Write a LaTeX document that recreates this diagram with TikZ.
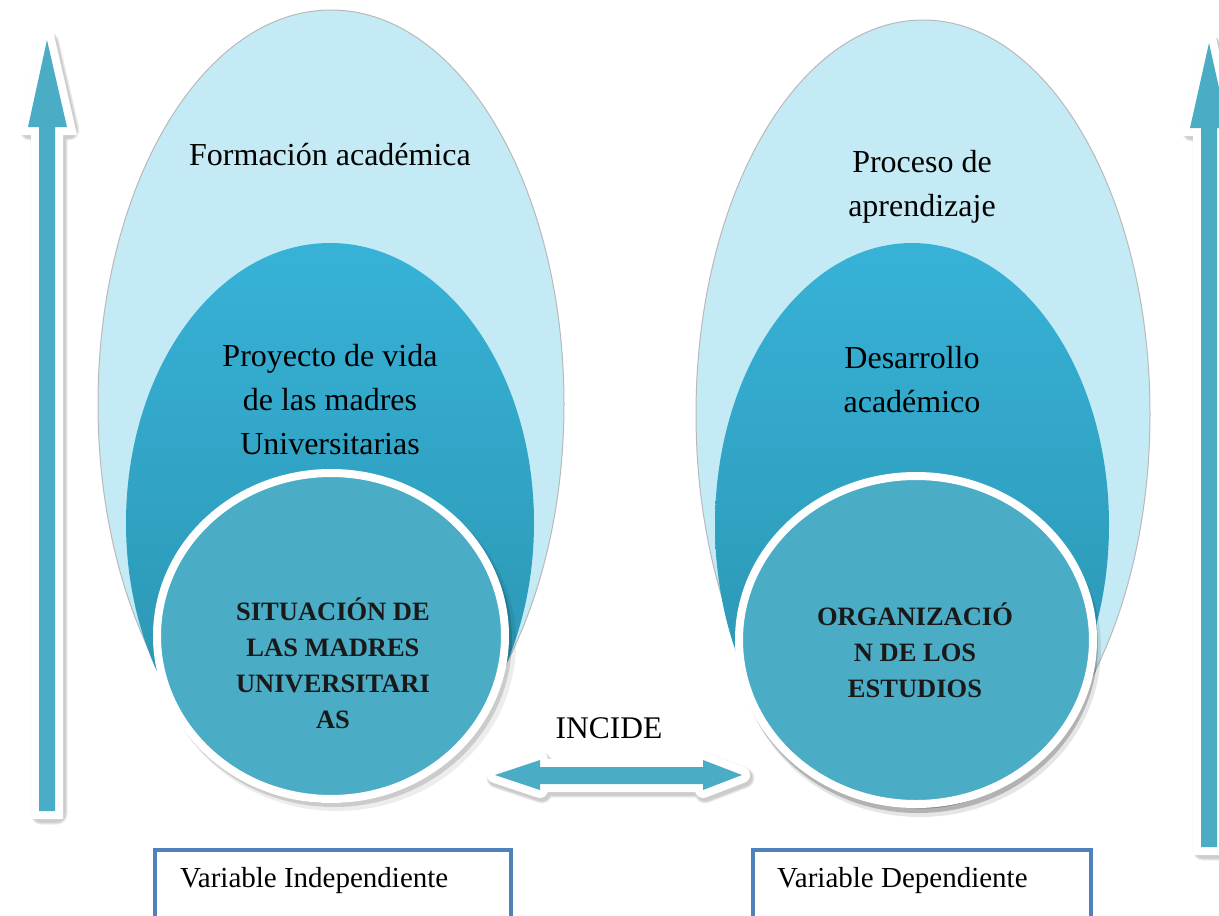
\documentclass[tikz,border=0pt]{standalone}
\usepackage{fontspec}
\setmainfont{Liberation Serif}
\usetikzlibrary{shapes.geometric}
\definecolor{lightcyan}{HTML}{C4EBF5}
\definecolor{midtop}{HTML}{37B2D7}
\definecolor{midbot}{HTML}{2990AB}
\definecolor{core}{HTML}{4BACC6}
\definecolor{boxblue}{HTML}{4F81BD}
\begin{document}
\begin{tikzpicture}[x=1pt,y=-1pt,
  outerell/.style={ellipse, fill=lightcyan, draw=gray!55, line width=1pt, inner sep=0pt},
  midell/.style={ellipse, top color=midtop, bottom color=midbot, draw=none, inner sep=0pt},
  coreell/.style={ellipse, fill=core, draw=white, line width=8pt, inner sep=0pt},
  shadowell/.style={ellipse, fill=black, draw=none, inner sep=0pt},
  lbl/.style={font=\fontsize{32}{44}\selectfont, align=center, text=black, inner sep=0pt},
  blbl/.style={font=\fontsize{26.5}{36}\selectfont\bfseries, align=center, text=black!90, inner sep=0pt},
  varbox/.style={draw=boxblue, line width=4pt, fill=white},
  boxlbl/.style={font=\fontsize{29}{36}\selectfont, anchor=west, inner sep=0pt},
  rim/.style={draw=white, fill=white, line width=16pt, line join=miter},
  rimround/.style={draw=white, fill=white, line width=16pt, line join=round},
  softshadow/.style={draw=black, fill=black, opacity=0.07, line join=round},
  arrowfill/.style={fill=core, draw=none}
]
\clip (0,0) rectangle (1219,916);
\fill[white] (0,0) rectangle (1219,916);

% ---------- left target ----------
\node[outerell, minimum width=466pt, minimum height=788pt] (louter) at (331,404) {};
\node[midell, minimum width=408pt, minimum height=560pt] (lmid) at (330,523) {};
\node[shadowell, opacity=0.07, minimum width=358pt, minimum height=336pt] (lshadowa) at (337,643) {};
\node[shadowell, opacity=0.14, minimum width=356pt, minimum height=334pt] (lshadowb) at (334,640) {};
\node[coreell, minimum width=348pt, minimum height=326pt] (lcore) at (331,636) {};

% ---------- right target ----------
\node[outerell, minimum width=454pt, minimum height=788pt] (router) at (923,414) {};
\node[midell, minimum width=394pt, minimum height=564pt] (rmid) at (912,525) {};
\node[shadowell, opacity=0.10, minimum width=362pt, minimum height=338pt] (rshadowa) at (920,648) {};
\node[shadowell, opacity=0.22, minimum width=360pt, minimum height=336pt] (rshadowb) at (918,645) {};
\node[coreell, minimum width=354pt, minimum height=328pt] (rcore) at (916,640) {};

% ---------- texts ----------
\node[lbl] (t1) at (330,155) {Formación académica};
\node[lbl] (t2) at (330,400) {Proyecto de vida\\de las madres\\Universitarias};
\node[blbl] (t3) at (333,663) {SITUACIÓN DE\\LAS MADRES\\UNIVERSITARI\\AS};
\node[lbl] (t4) at (922,187) {Proceso de\\aprendizaje};
\node[lbl] (t5) at (912,380) {Desarrollo\\académico};
\node[blbl] (t6) at (915,650) {ORGANIZACIÓ\\N DE LOS\\ESTUDIOS};
\node[font=\fontsize{31.5}{36}\selectfont, inner sep=0pt] (incide) at (609,728) {INCIDE};

% ---------- left vertical arrow ----------
\foreach \w in {17,19,21}{
  \path[softshadow, line width=\w pt, shift={(2,3)}] (47,40) -- (67,127) -- (55,127) -- (55,811) -- (39,811) -- (39,127) -- (28,127) -- cycle;
}
\path[rim] (47,40) -- (67,127) -- (55,127) -- (55,811) -- (39,811) -- (39,127) -- (28,127) -- cycle;
\path[arrowfill] (47,40) -- (67,127) -- (55,127) -- (55,811) -- (39,811) -- (39,127) -- (28,127) -- cycle;

% ---------- right vertical arrow ----------
\foreach \w in {17,19,21}{
  \path[softshadow, line width=\w pt, shift={(2,3)}] (1209,43) -- (1228,128) -- (1217,128) -- (1217,847) -- (1201,847) -- (1201,128) -- (1190,128) -- cycle;
}
\path[rim] (1209,43) -- (1228,128) -- (1217,128) -- (1217,847) -- (1201,847) -- (1201,128) -- (1190,128) -- cycle;
\path[arrowfill] (1209,43) -- (1228,128) -- (1217,128) -- (1217,847) -- (1201,847) -- (1201,128) -- (1190,128) -- cycle;

% ---------- double arrow (INCIDE) ----------
\foreach \w in {17,19,21}{
  \path[softshadow, line width=\w pt, shift={(2,3)}] (495,775) -- (540,760) -- (540,767) -- (703,767) -- (703,760) -- (742,775) -- (703,790) -- (703,784) -- (540,784) -- (540,790) -- cycle;
}
\path[rimround] (495,775) -- (540,760) -- (540,767) -- (703,767) -- (703,760) -- (742,775) -- (703,790) -- (703,784) -- (540,784) -- (540,790) -- cycle;
\path[arrowfill] (495,775) -- (540,760) -- (540,767) -- (703,767) -- (703,760) -- (742,775) -- (703,790) -- (703,784) -- (540,784) -- (540,790) -- cycle;

% ---------- variable boxes ----------
\draw[varbox] (155,850) rectangle (511,940);
\node[boxlbl] (vind) at (180,881) {Variable Independiente};
\draw[varbox] (753,850) rectangle (1091,940);
\node[boxlbl] (vdep) at (777,881) {Variable Dependiente};
\end{tikzpicture}
\end{document}
